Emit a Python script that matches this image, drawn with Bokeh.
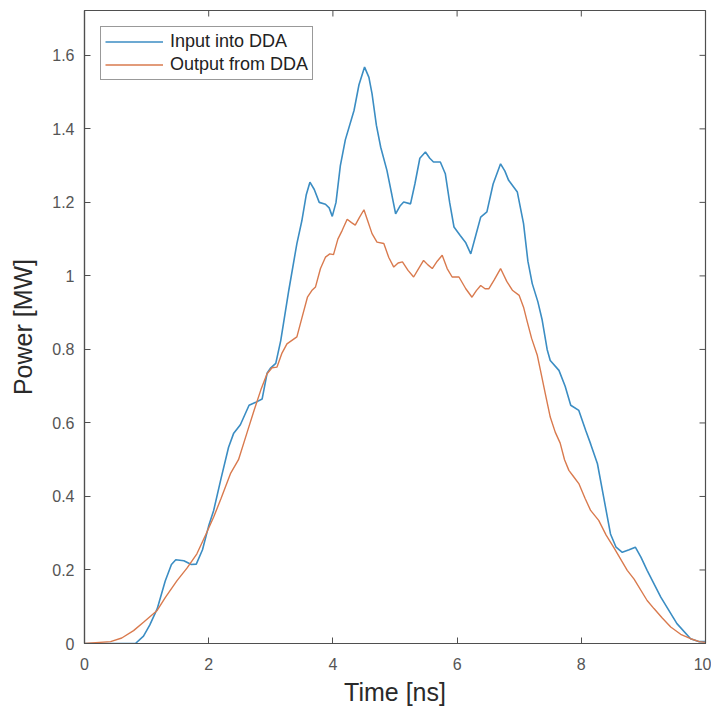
import math
from bokeh.plotting import figure
from bokeh.models import Range1d, FixedTicker, Legend, LegendItem
from bokeh.embed import file_html
from bokeh.resources import INLINE

# ---- data ----
t_input = [0.0, 0.5, 0.82, 0.95, 1.05, 1.17, 1.30, 1.40, 1.47, 1.60, 1.72, 1.80, 1.90, 2.00, 2.08,
           2.20, 2.32, 2.40, 2.51, 2.65, 2.78, 2.86, 2.94, 3.00, 3.08, 3.16, 3.29, 3.42, 3.50, 3.57,
           3.63, 3.70, 3.78, 3.88, 3.94, 3.99, 4.05, 4.12, 4.20, 4.34, 4.42, 4.51, 4.58, 4.63, 4.70,
           4.77, 4.87, 4.95, 5.01, 5.08, 5.14, 5.25, 5.32, 5.40, 5.49, 5.56, 5.62, 5.73, 5.81, 5.88,
           5.95, 6.05, 6.14, 6.22, 6.30, 6.38, 6.48, 6.58, 6.70, 6.77, 6.83, 6.97, 7.07, 7.14, 7.21,
           7.30, 7.37, 7.45, 7.50, 7.64, 7.74, 7.83, 7.96, 8.07, 8.15, 8.26, 8.36, 8.47, 8.56, 8.66,
           8.77, 8.87, 8.96, 9.06, 9.28, 9.54, 9.76, 9.90, 10.0]
p_input = [0.0, 0.0, 0.0, 0.02, 0.05, 0.094, 0.17, 0.215, 0.228, 0.225, 0.215, 0.216, 0.255, 0.32, 0.362,
           0.45, 0.534, 0.571, 0.595, 0.648, 0.658, 0.665, 0.735, 0.75, 0.762, 0.824, 0.961, 1.088, 1.15, 1.22,
           1.255, 1.235, 1.20, 1.195, 1.185, 1.162, 1.20, 1.30, 1.37, 1.45, 1.52, 1.568, 1.54, 1.496, 1.41,
           1.35, 1.287, 1.22, 1.169, 1.19, 1.201, 1.196, 1.25, 1.32, 1.337, 1.32, 1.310, 1.310, 1.278, 1.20,
           1.133, 1.110, 1.09, 1.060, 1.11, 1.160, 1.174, 1.25, 1.305, 1.285, 1.260, 1.228, 1.142, 1.04, 0.979,
           0.93, 0.880, 0.80, 0.770, 0.743, 0.70, 0.648, 0.634, 0.58, 0.543, 0.489, 0.398, 0.298, 0.262, 0.248,
           0.255, 0.262, 0.235, 0.199, 0.126, 0.054, 0.013, 0.005, 0.005]

t_output = [0.0, 0.42, 0.60, 0.79, 0.95, 1.17, 1.30, 1.49, 1.65, 1.81, 1.95, 2.08, 2.20, 2.35, 2.48,
            2.62, 2.73, 2.84, 2.94, 3.02, 3.10, 3.18, 3.26, 3.42, 3.50, 3.59, 3.66, 3.72, 3.80, 3.88,
            3.95, 4.01, 4.08, 4.15, 4.23, 4.30, 4.36, 4.43, 4.50, 4.56, 4.63, 4.71, 4.82, 4.90, 4.98,
            5.05, 5.12, 5.21, 5.30, 5.38, 5.46, 5.53, 5.60, 5.68, 5.76, 5.84, 5.92, 6.03, 6.14, 6.24,
            6.31, 6.38, 6.45, 6.51, 6.60, 6.70, 6.80, 6.89, 7.00, 7.07, 7.13, 7.20, 7.29, 7.34, 7.42,
            7.50, 7.58, 7.66, 7.73, 7.80, 7.88, 7.96, 8.06, 8.15, 8.28, 8.40, 8.52, 8.74, 8.85, 9.06,
            9.17, 9.30, 9.44, 9.60, 9.76, 9.90, 10.0]
p_output = [0.0, 0.005, 0.015, 0.035, 0.058, 0.090, 0.125, 0.171, 0.205, 0.244, 0.295, 0.344, 0.395, 0.462, 0.50,
            0.575, 0.634, 0.69, 0.734, 0.75, 0.752, 0.79, 0.815, 0.834, 0.885, 0.942, 0.96, 0.970, 1.02, 1.051,
            1.06, 1.058, 1.10, 1.124, 1.154, 1.145, 1.138, 1.16, 1.180, 1.15, 1.115, 1.092, 1.088, 1.05, 1.024,
            1.035, 1.038, 1.015, 0.997, 1.02, 1.042, 1.03, 1.020, 1.04, 1.056, 1.02, 0.997, 0.997, 0.965, 0.942,
            0.96, 0.974, 0.965, 0.965, 0.99, 1.020, 0.985, 0.961, 0.947, 0.915, 0.875, 0.83, 0.785, 0.745, 0.68,
            0.616, 0.575, 0.545, 0.50, 0.471, 0.453, 0.435, 0.395, 0.362, 0.335, 0.295, 0.262, 0.199, 0.175, 0.117,
            0.095, 0.07, 0.045, 0.025, 0.013, 0.005, 0.003]

x_ticks = [0, 2, 4, 6, 8, 10]
x_tick_labels = ["0", "2", "4", "6", "8", "10"]
y_ticks = [0, 0.2, 0.4, 0.6, 0.8, 1.0, 1.2, 1.4, 1.6]
y_tick_labels = ["0", "0.2", "0.4", "0.6", "0.8", "1", "1.2", "1.4", "1.6"]
series_names = ["Input into DDA", "Output from DDA"]
X_MIN, X_MAX = 0, 10
Y_MIN, Y_MAX = 0, 1.722

BLUE = "#3b8dc3"
ORANGE = "#d97a4e"
AXC = "#4f4f4f"
FONT = "Liberation Sans"

p = figure(frame_width=621, frame_height=633, output_backend="svg", toolbar_location=None,
           x_range=Range1d(X_MIN, X_MAX), y_range=Range1d(Y_MIN, Y_MAX))
p.min_border_left = 84
p.min_border_top = 10
p.min_border_right = 6
p.min_border_bottom = 62
p.background_fill_color = "white"
p.border_fill_color = "white"
p.outline_line_color = AXC
p.outline_line_width = 1.2
p.grid.visible = False

r1 = p.line(t_input, p_input, line_color=BLUE, line_width=1.6)
r2 = p.line(t_output, p_output, line_color=ORANGE, line_width=1.4)

xa = p.xaxis[0]
ya = p.yaxis[0]
xa.ticker = FixedTicker(ticks=x_ticks)
ya.ticker = FixedTicker(ticks=y_ticks)
xa.major_label_overrides = {t: l for t, l in zip(x_ticks, x_tick_labels)}
ya.major_label_overrides = {t: l for t, l in zip(y_ticks, y_tick_labels)}
xa.axis_label = "Time [ns]"
ya.axis_label = "Power [MW]"
for ax in (xa, ya):
    ax.minor_tick_line_color = None
    ax.major_tick_in = 6
    ax.major_tick_out = 0
    ax.major_tick_line_color = AXC
    ax.axis_line_color = AXC
    ax.axis_line_width = 1.2
    ax.major_label_text_font = FONT
    ax.major_label_text_font_size = "16px"
    ax.major_label_text_color = "#555555"
    ax.axis_label_text_font = FONT
    ax.axis_label_text_font_size = "25px"
    ax.axis_label_text_font_style = "normal"
    ax.axis_label_text_color = "#2a2a2a"
xa.major_label_standoff = 14
xa.axis_label_standoff = 5
ya.major_label_standoff = 10
ya.axis_label_standoff = 12

# mirrored inward ticks on top and right edges of the box
p.scatter(x=x_ticks, y=[Y_MAX] * len(x_ticks), marker="dash", size=12, angle=math.pi / 2,
          line_color=AXC, line_width=1)
p.scatter(x=[X_MAX] * len(y_ticks), y=y_ticks, marker="dash", size=12,
          line_color=AXC, line_width=1)

legend = Legend(items=[LegendItem(label=series_names[0], renderers=[r1]),
                       LegendItem(label=series_names[1], renderers=[r2])],
                location="top_left")
legend.margin = 16
legend.padding = 4
legend.spacing = 2
legend.glyph_width = 58
legend.glyph_height = 21
legend.label_height = 21
legend.label_standoff = 7
legend.label_text_font = FONT
legend.label_text_font_size = "18px"
legend.label_text_color = "#222222"
legend.border_line_color = "#333333"
legend.border_line_width = 1.2
legend.background_fill_color = "white"
legend.background_fill_alpha = 1.0
p.add_layout(legend)

open("out.html", "w").write(file_html(p, INLINE))
